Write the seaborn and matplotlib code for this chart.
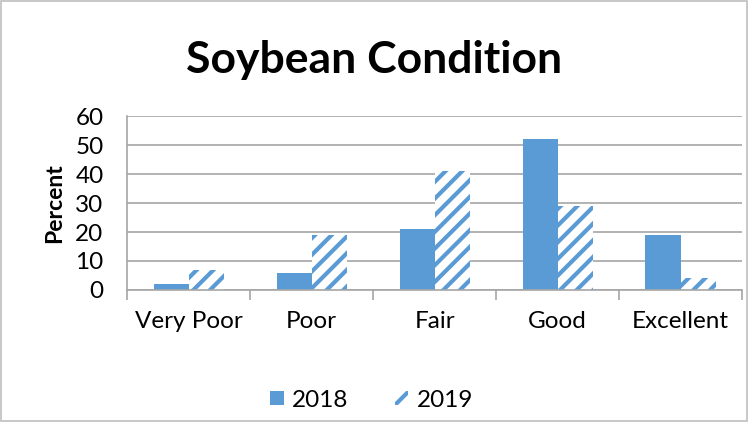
import matplotlib
matplotlib.use("Agg")
import matplotlib.pyplot as plt
import seaborn as sns
import pandas as pd
from matplotlib.patches import Patch, Rectangle

categories = ["Very Poor", "Poor", "Fair", "Good", "Excellent"]
years = ["2018", "2019"]
values_2018 = [2, 6, 21, 52, 19]
values_2019 = [7, 19, 41, 29, 4]
yticks = [0, 10, 20, 30, 40, 50, 60]

df = pd.DataFrame({
    "Condition": categories * 2,
    "Year": [years[0]] * len(categories) + [years[1]] * len(categories),
    "Percent": values_2018 + values_2019,
})

sns.set_theme(style="white")
FONT = ["Lato", "DejaVu Sans"]
plt.rcParams["font.family"] = FONT
plt.rcParams["hatch.linewidth"] = 3.0
plt.rcParams["text.color"] = "black"

BLUE = "#5B9BD5"
GRID = "#A6A6A6"
FS = 17.5

fig = plt.figure(figsize=(7.48, 4.22), dpi=100)
fig.patch.set_facecolor("white")
ax = fig.add_axes([0.170, 0.3128, 0.822, 0.4123])

sns.barplot(data=df, x="Condition", y="Percent", hue="Year", order=categories,
            hue_order=years, palette=[BLUE, BLUE], width=0.57, gap=0,
            saturation=1, legend=False, ax=ax)

for p in ax.containers[0]:
    p.set_facecolor(BLUE)
    p.set_linewidth(0)
for p in ax.containers[1]:
    p.set_facecolor("white")
    p.set_edgecolor(BLUE)
    p.set_hatch("//")
    p.set_linewidth(0)

ax.set_xlim(-0.5, len(categories) - 0.5)
ax.set_ylim(0, 60)
ax.set_yticks(yticks)
ax.set_yticklabels([str(t) for t in yticks])
ax.yaxis.grid(True, color=GRID, linewidth=1.2)
ax.set_axisbelow(True)
ax.tick_params(axis="y", length=0, pad=17, labelsize=FS, labelcolor="black")
ax.tick_params(axis="x", which="major", length=0, pad=15, labelsize=FS, labelcolor="black")
ax.set_xticks([i - 0.5 for i in range(len(categories) + 1)], minor=True)
ax.tick_params(axis="x", which="minor", length=7, width=1.2, color=GRID, bottom=True)

for s in ["top", "right"]:
    ax.spines[s].set_visible(False)
for s in ["left", "bottom"]:
    ax.spines[s].set_color(GRID)
    ax.spines[s].set_linewidth(1.2)

ax.set_xlabel("")
ax.set_ylabel("Percent", fontsize=16.5, fontweight="bold", labelpad=7, color="black")

fig.text(0.5, 0.858, "Soybean Condition", ha="center", va="center",
         fontsize=32, fontweight="bold", color="black")

handles = [Patch(facecolor=BLUE, edgecolor=BLUE, linewidth=0),
           Patch(facecolor="white", edgecolor=BLUE, hatch="//", linewidth=0)]
fig.legend(handles, years, loc="center", bbox_to_anchor=(0.497, 0.052), ncol=2,
           frameon=False, fontsize=FS, handlelength=0.55, handleheight=0.55,
           handletextpad=0.35, columnspacing=1.9, labelcolor="black")

fig.add_artist(Rectangle((0.002, 0.002), 0.996, 0.996, transform=fig.transFigure,
                         fill=False, edgecolor="#BFBFBF", linewidth=1.2))

fig.savefig("out.png", dpi=100)
